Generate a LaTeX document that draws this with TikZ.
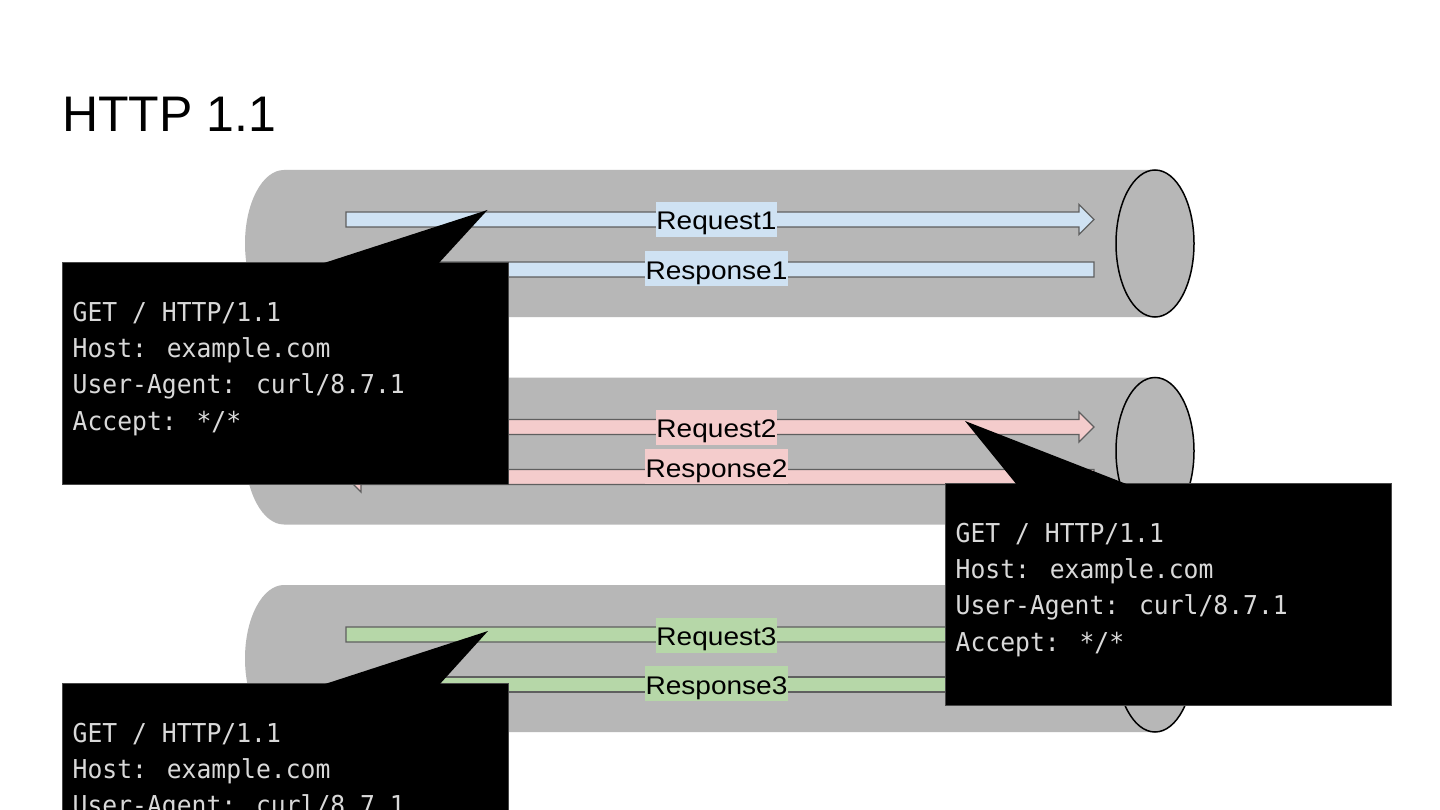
\documentclass[tikz,border=0pt]{standalone}
\usepackage{fontspec}
\setmainfont{Liberation Sans}
\newfontfamily\lblfont[FakeStretch=1.1]{Liberation Sans}
\newfontfamily\codefont[FakeStretch=0.95]{DejaVu Sans Mono}
\usetikzlibrary{shapes.geometric}
\definecolor{pipegray}{HTML}{B7B7B7}
\definecolor{reqblue}{HTML}{CFE2F3}
\definecolor{reqred}{HTML}{F4CCCC}
\definecolor{reqgreen}{HTML}{B6D7A8}
\definecolor{arrowedge}{HTML}{5F5F5F}
\definecolor{calloutedge}{HTML}{474747}
\definecolor{codegray}{HTML}{D9D9D9}

\newcommand\drawpipe[2]{% name, top y
  \fill[pipegray] (284,#2) -- (1155,#2) -- (1155,#2+147) -- (284,#2+147)
    arc[start angle=90,end angle=270,x radius=39,y radius=73.5] -- cycle;
  \node[pipeend] (#1) at (1155,#2+73.5) {};
}
\newcommand\reqarrow[2]{% y centre, fill colour
  \draw[blockarrow, fill=#2] (346,#1-7.5) -- (1079,#1-7.5) -- (1079,#1-15) -- (1094,#1)
    -- (1079,#1+15) -- (1079,#1+7.5) -- (346,#1+7.5) -- cycle;
}
\newcommand\resparrow[2]{% y centre, fill colour
  \draw[blockarrow, fill=#2] (1094,#1-7.5) -- (361,#1-7.5) -- (361,#1-15) -- (346,#1)
    -- (361,#1+15) -- (361,#1+7.5) -- (1094,#1+7.5) -- cycle;
}
\newcommand\respbar[2]{% y centre, fill colour
  \draw[blockarrow, fill=#2] (1094,#1-7.5) -- (350,#1-7.5) -- (350,#1+7.5) -- (1094,#1+7.5) -- cycle;
}
\newcommand\httpcallout[7]{% name, left, top, tip x, tip y, base left, base right
  \node[callbox, anchor=north west] (#1) at (#2,#3) {};
  \fill[black] (#6,#3+2) -- (#4,#5) -- (#7,#3+2) -- cycle;
  \node[codeline] (#1-a) at (#2+10.5,#3+59) {GET / HTTP/1.1};
  \node[codeline] (#1-b) at (#2+10.5,#3+95.3) {Host: example.com};
  \node[codeline] (#1-c) at (#2+10.5,#3+131.6) {User-Agent: curl/8.7.1};
  \node[codeline] (#1-d) at (#2+10.5,#3+168) {Accept: */*};
}

\begin{document}
\begin{tikzpicture}[x=1pt,y=-1pt,
  pipeend/.style={ellipse, draw=black, fill=pipegray, line width=1.5pt,
    minimum width=78, minimum height=147, inner sep=0},
  blockarrow/.style={draw=arrowedge, line width=1.3pt, line join=miter},
  lbl/.style={font=\lblfont\fontsize{25.5}{30}\selectfont, text=black,
    inner xsep=0.3, inner ysep=3, text height=25, text depth=4},
  callbox/.style={fill=black, draw=calloutedge, line width=1pt,
    minimum width=446, minimum height=222, inner sep=0},
  codeline/.style={anchor=base west, inner sep=0, text=codegray,
    font=\codefont\fontsize{26}{30}\selectfont},
  titletext/.style={anchor=base west, inner sep=0, font=\fontsize{50}{60}\selectfont}]
\clip (0,0) rectangle (1440,810);
\fill[white] (0,0) rectangle (1440,810);

\node[titletext] (title) at (62,132) {HTTP 1.1};

% pipes
\drawpipe{end1}{170}
\drawpipe{end2}{377.5}
\drawpipe{end3}{585}

% arrows
\reqarrow{219.5}{reqblue}
\resparrow{269.5}{reqblue}
\reqarrow{427}{reqred}
\resparrow{477}{reqred}
\reqarrow{634.5}{reqgreen}
\respbar{684.5}{reqgreen}

% labels
\node[lbl, fill=reqblue] (req1) at (716.5,219.5) {Request1};
\node[lbl, fill=reqblue] (resp1) at (716.5,269) {Response1};
\node[lbl, fill=reqred] (req2) at (716.5,427) {Request2};
\node[lbl, fill=reqred] (resp2) at (716.5,466.5) {Response2};
\node[lbl, fill=reqgreen] (req3) at (716.5,635) {Request3};
\node[lbl, fill=reqgreen] (resp3) at (716.5,683.5) {Response3};

% callouts
\httpcallout{c1}{62}{262}{487.5}{210}{321}{438}
\httpcallout{c2}{945}{483}{965}{421}{1017}{1129}
\httpcallout{c3}{62}{683}{488}{631}{322}{439}
\end{tikzpicture}
\end{document}
